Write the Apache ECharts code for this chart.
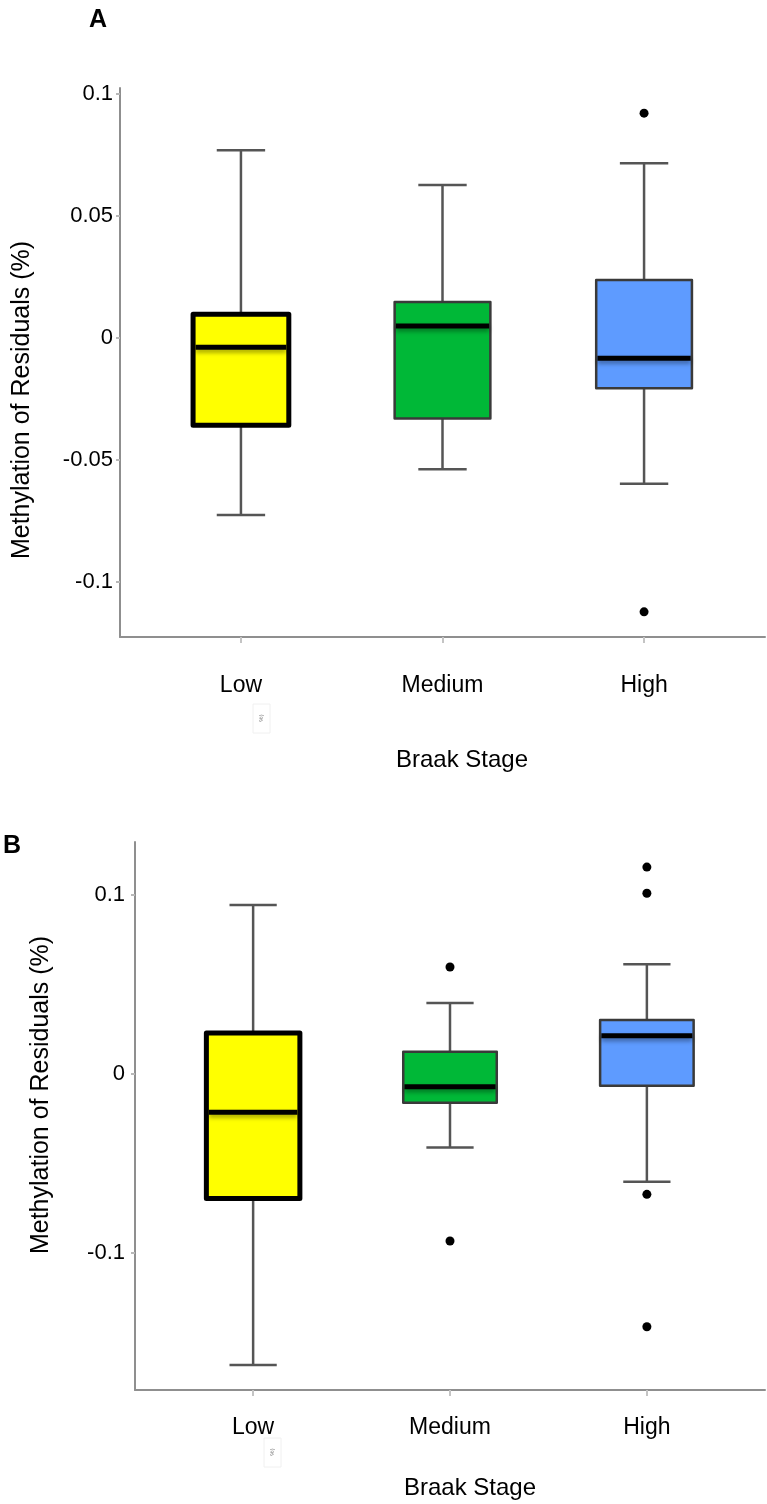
<!DOCTYPE html>
<html>
<head>
<meta charset="utf-8">
<title>Methylation of Residuals by Braak Stage</title>
<script src="https://cdn.jsdelivr.net/npm/echarts@6/dist/echarts.min.js"></script>
<style>
  html, body { margin: 0; padding: 0; background: #fff; }
  #chart { width: 767px; height: 1504px; }
</style>
</head>
<body>
<div id="chart"></div>
<script>
// Braak stage groups (x positions are the 1-based category index)
const categories = ['Low', 'Medium', 'High'];
const boxColors = ['#FFFF00', '#00B837', '#5E9BFF'];

// Panel A: [min whisker, Q1, median, Q3, max whisker]
const lowA = [-0.0727, -0.0359, -0.0039, 0.0096, 0.0768];
const mediumA = [-0.0540, -0.0331, 0.0048, 0.0146, 0.0625];
const highA = [-0.0599, -0.0208, -0.0085, 0.0236, 0.0715];
const outliersA = [['High', 0.0920], ['High', -0.1124]];
const ticksA = [-0.1, -0.05, 0, 0.05, 0.1];
const tickLabelsA = ['-0.1', '-0.05', '0', '0.05', '0.1'];

// Panel B: [min whisker, Q1, median, Q3, max whisker]
const lowB = [-0.1626, -0.0695, -0.0214, 0.0229, 0.0944];
const mediumB = [-0.0410, -0.0160, -0.0071, 0.0125, 0.0397];
const highB = [-0.0602, -0.0065, 0.0214, 0.0302, 0.0613];
const outliersB = [['Medium', 0.0598], ['Medium', -0.0933],
                   ['High', 0.1156], ['High', 0.1010], ['High', -0.0672], ['High', -0.1412]];
const ticksB = [-0.1, 0, 0.1];
const tickLabelsB = ['-0.1', '0', '0.1'];

const FONT = "'Liberation Sans', Arial, Helvetica, sans-serif";
const BOX_W = 0.475;   // box width in category units
const CAP_W = 0.24;    // whisker cap width in category units

function boxData(rows) {
  return rows.map((r, i) => [i + 1].concat(r));
}
function outlierData(list) {
  return list.map(([cat, v]) => [categories.indexOf(cat) + 1, v]);
}

function renderBox(params, api) {
  const x = api.value(0);
  const pLo = api.coord([x, api.value(1)]);
  const pQ1 = api.coord([x, api.value(2)]);
  const pMd = api.coord([x, api.value(3)]);
  const pQ3 = api.coord([x, api.value(4)]);
  const pHi = api.coord([x, api.value(5)]);
  const bw = api.size([BOX_W, 0])[0];
  const cw = api.size([CAP_W, 0])[0];
  const idx = params.dataIndex;
  const heavy = idx === 0;
  const borderW = heavy ? 5 : 2.5;
  const borderC = heavy ? '#000' : '#3a3a3a';
  const whisker = { stroke: '#555', lineWidth: 2.5 };
  const cx = pMd[0];
  return {
    type: 'group',
    children: [
      { type: 'line', shape: { x1: cx, y1: pLo[1], x2: cx, y2: pQ1[1] }, style: whisker },
      { type: 'line', shape: { x1: cx, y1: pQ3[1], x2: cx, y2: pHi[1] }, style: whisker },
      { type: 'line', shape: { x1: cx - cw / 2, y1: pLo[1], x2: cx + cw / 2, y2: pLo[1] }, style: whisker },
      { type: 'line', shape: { x1: cx - cw / 2, y1: pHi[1], x2: cx + cw / 2, y2: pHi[1] }, style: whisker },
      {
        type: 'rect',
        shape: { x: cx - bw / 2, y: pQ3[1], width: bw, height: pQ1[1] - pQ3[1] },
        style: { fill: boxColors[idx], stroke: borderC, lineWidth: borderW, lineJoin: 'round' }
      },
      {
        type: 'line',
        shape: { x1: cx - bw / 2 + borderW / 2, y1: pMd[1], x2: cx + bw / 2 - borderW / 2, y2: pMd[1] },
        style: {
          stroke: '#000', lineWidth: 5,
          shadowColor: 'rgba(0,0,0,0.35)', shadowBlur: 4, shadowOffsetY: 3
        }
      }
    ]
  };
}

function makeX(gridIndex, margin) {
  return {
    type: 'value', gridIndex, min: 0.4, max: 3.6,
    splitLine: { show: false },
    axisLine: { show: true, onZero: false, lineStyle: { color: '#8f8f8f', width: 2 } },
    axisTick: { show: true, customValues: [1, 2, 3], length: 6, lineStyle: { color: '#c4c4c4', width: 2 } },
    axisLabel: {
      customValues: [1, 2, 3], margin,
      formatter: v => categories[Math.round(v) - 1],
      fontSize: 23, color: '#000', fontFamily: FONT
    }
  };
}

function makeY(gridIndex, min, max, ticks, labels, margin) {
  return {
    type: 'value', gridIndex, min, max,
    splitLine: { show: false },
    axisLine: { show: true, onZero: false, lineStyle: { color: '#8f8f8f', width: 2 } },
    axisTick: { show: true, customValues: ticks, length: 4, lineStyle: { color: '#b8b8b8', width: 2 } },
    axisLabel: {
      customValues: ticks, margin,
      formatter: v => {
        const i = ticks.findIndex(t => Math.abs(t - v) < 1e-9);
        return i >= 0 ? labels[i] : '';
      },
      fontSize: 22, color: '#000', fontFamily: FONT
    }
  };
}

function yTitle(x, y) {
  return {
    type: 'text', x, y, rotation: Math.PI / 2,
    style: {
      text: 'Methylation of Residuals (%)', fill: '#000',
      fontSize: 25, fontFamily: FONT, align: 'center', verticalAlign: 'middle'
    }
  };
}
function xTitle(x, y) {
  return {
    type: 'text', x, y,
    style: {
      text: 'Braak Stage', fill: '#000',
      fontSize: 24, fontFamily: FONT, align: 'center', verticalAlign: 'middle'
    }
  };
}
function panelTag(text, x, y) {
  return {
    type: 'text', x, y,
    style: {
      text, fill: '#000', fontSize: 25, fontWeight: 'bold',
      fontFamily: FONT, align: 'center', verticalAlign: 'middle'
    }
  };
}
function stray(x, y) {
  return {
    type: 'group', x, y,
    children: [
      { type: 'rect', shape: { x: -8, y: -14, width: 17, height: 29 },
        style: { fill: '#fff', stroke: '#f0f0f0', lineWidth: 1 } },
      { type: 'text', rotation: Math.PI / 2,
        style: { text: '%)', fill: '#777', fontSize: 6, fontFamily: FONT,
                 align: 'center', verticalAlign: 'middle' } }
    ]
  };
}

const outlierStyle = { color: '#000', opacity: 1 };

const chart = echarts.init(document.getElementById('chart'), null, { renderer: 'canvas' });
chart.setOption({
  animation: false,
  backgroundColor: '#fff',
  grid: [
    { left: 120, top: 88, width: 645, height: 549 },
    { left: 135, top: 842, width: 630, height: 548 }
  ],
  xAxis: [makeX(0, 37), makeX(1, 26)],
  yAxis: [
    makeY(0, -0.1227, 0.1023, ticksA, tickLabelsA, 7),
    makeY(1, -0.1765, 0.1296, ticksB, tickLabelsB, 10)
  ],
  series: [
    {
      type: 'custom', xAxisIndex: 0, yAxisIndex: 0, clip: false,
      renderItem: renderBox,
      encode: { x: 0, y: [1, 2, 3, 4, 5] },
      data: boxData([lowA, mediumA, highA])
    },
    {
      type: 'scatter', xAxisIndex: 0, yAxisIndex: 0,
      symbolSize: 9, itemStyle: outlierStyle,
      data: outlierData(outliersA)
    },
    {
      type: 'custom', xAxisIndex: 1, yAxisIndex: 1, clip: false,
      renderItem: renderBox,
      encode: { x: 0, y: [1, 2, 3, 4, 5] },
      data: boxData([lowB, mediumB, highB])
    },
    {
      type: 'scatter', xAxisIndex: 1, yAxisIndex: 1,
      symbolSize: 9, itemStyle: outlierStyle,
      data: outlierData(outliersB)
    }
  ],
  graphic: [
    panelTag('A', 98, 20),
    panelTag('B', 12, 846),
    yTitle(22, 400),
    yTitle(41, 1095),
    xTitle(462, 760),
    xTitle(470, 1488),
    stray(261, 718),
    stray(272, 1452)
  ]
});
</script>
</body>
</html>
